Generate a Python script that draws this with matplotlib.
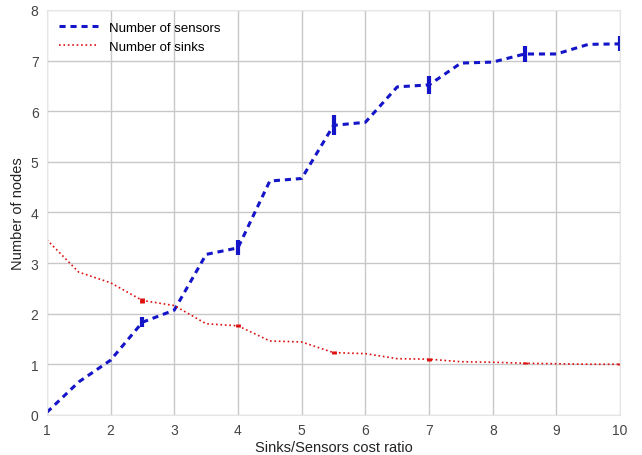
import matplotlib
matplotlib.use("Agg")
import matplotlib.pyplot as plt
import numpy as np

x = [1, 1.5, 2, 2.5, 3, 3.5, 4, 4.5, 5, 5.5, 6, 6.5, 7, 7.5, 8, 8.5, 9, 9.5, 10]
sensors = [0.05, 0.65, 1.08, 1.83, 2.07, 3.17, 3.30, 4.62, 4.67, 5.72, 5.78,
           6.48, 6.52, 6.95, 6.97, 7.13, 7.13, 7.32, 7.33]
sinks = [3.46, 2.82, 2.61, 2.26, 2.16, 1.80, 1.76, 1.46, 1.44, 1.23, 1.21,
         1.11, 1.10, 1.05, 1.04, 1.02, 1.01, 1.00, 1.00]
err_x = [2.5, 4, 5.5, 7, 8.5, 10]
sensors_err = [0.10, 0.15, 0.20, 0.18, 0.15, 0.15]
sinks_err = [0.04, 0.03, 0.03, 0.03, 0.02, 0.02]

plt.rcParams['font.family'] = ['Liberation Sans', 'DejaVu Sans']
fig = plt.figure(figsize=(6.42, 4.56), dpi=100)
ax = fig.add_axes([0.073, 0.088, 0.893, 0.888])

ax.plot(x, sensors, color='#1414c8', linestyle=(0, (2.0, 1.6)), linewidth=2.2, label='Number of sensors')
ax.plot(x, sinks, color='#dd1010', linestyle=':', linewidth=1.2, label='Number of sinks')

sens_e = [sensors[x.index(v)] for v in err_x]
sink_e = [sinks[x.index(v)] for v in err_x]
ax.errorbar(err_x, sens_e, yerr=sensors_err, fmt='none', ecolor='#1414c8', elinewidth=3, capsize=0)
ax.errorbar(err_x, sink_e, yerr=sinks_err, fmt='none', ecolor='#dd1010', elinewidth=3.5, capsize=0)

ax.set_xlim(1, 10)
ax.set_ylim(0, 8)
ax.set_xticks(range(1, 11))
ax.set_yticks(range(0, 9))
ax.grid(True, color='#c8c8c8', linewidth=1)
ax.set_axisbelow(True)
for s in ax.spines.values():
    s.set_color('#e6e6e6')
ax.tick_params(length=0, labelsize=10, colors='#444444', pad=6)
ax.set_xlabel('Sinks/Sensors cost ratio', fontsize=10.5, color='#222222', labelpad=2)
ax.set_ylabel('Number of nodes', fontsize=10.5, color='#222222', labelpad=4)
leg = ax.legend(loc='upper left', frameon=False, fontsize=9.5, handlelength=3)

fig.savefig('out.png', dpi=100)
